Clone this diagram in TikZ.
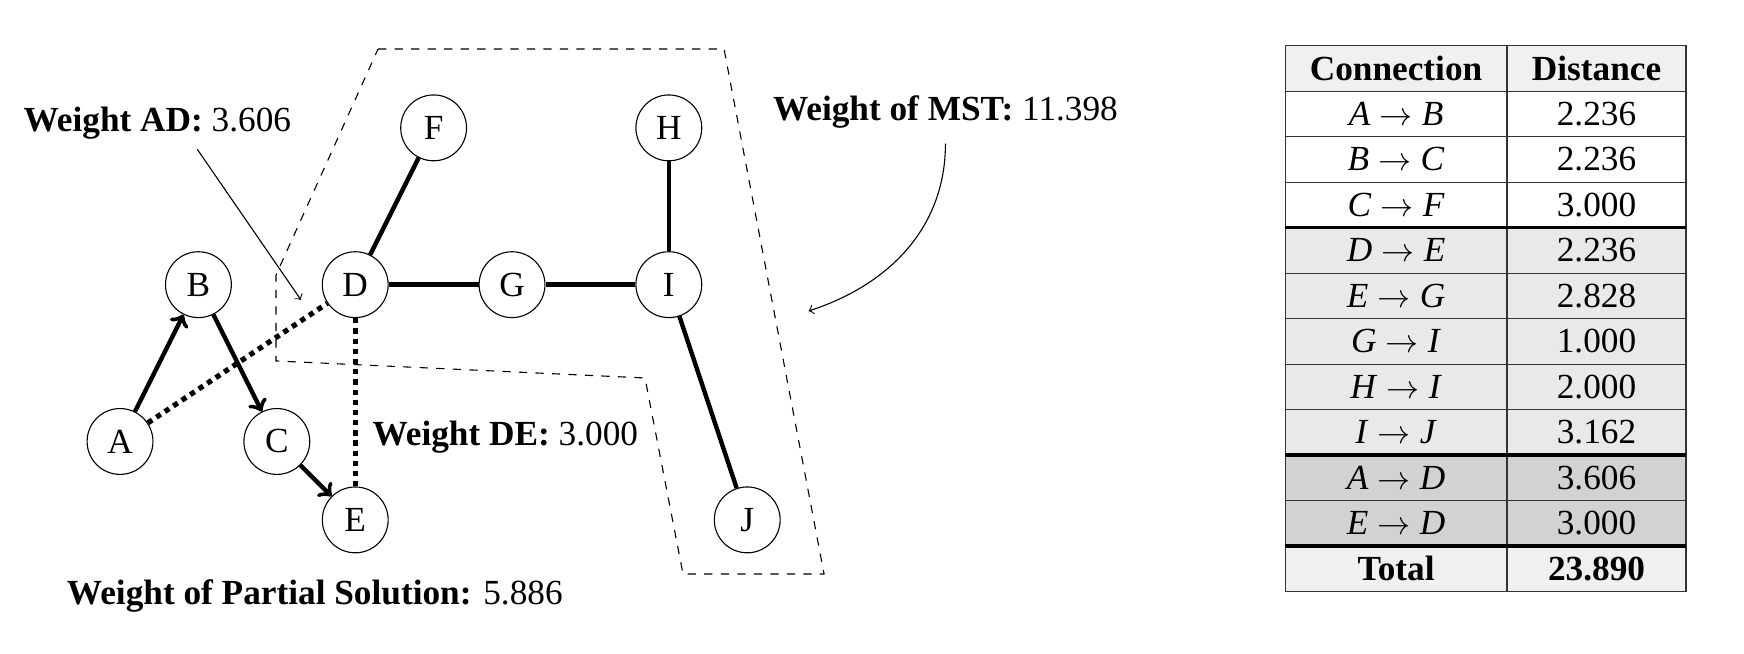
\documentclass[tikz,border=0pt]{standalone}
\usepackage{fontspec}
\setmainfont{Liberation Serif}
\usetikzlibrary{calc}

\colorlet{rowhead}{gray!12}
\colorlet{rowmid}{gray!17}
\colorlet{rowdark}{gray!35}

\tikzset{
  vertex/.style={draw, circle, fill=white, minimum size=0.84cm, inner sep=0pt},
  mstedge/.style={line width=1.6pt},
  pathedge/.style={line width=1.6pt, ->},
  cutedge/.style={line width=1.9pt, dash pattern=on 1.9pt off 1.8pt},
  thickrule/.style={line width=1.3pt},
}

\begin{document}
\begin{tikzpicture}[font=\fontsize{12.8}{15}\selectfont]
    \useasboundingbox (-1.531,-2.710) rectangle (20.714,5.631);

    \draw[dashed] (3.291,5.006) -- (7.704,5.006) -- (8.980,-1.690) -- (7.181,-1.690)
        -- (6.696,0.810) -- (1.990,1.027) -- (1.990,2.124) -- cycle;

    \foreach \n/\x/\y in {A/0/0, B/1/2, C/2/0, D/3/2, E/3/-1, F/4/4, G/5/2, H/7/4, I/7/2, J/8/-1}
    \node (\n) [vertex] at (\x,\y) {\n};

    \draw[pathedge] (A) -- (B);
    \draw[pathedge] (B) -- (C);
    \draw[pathedge] (C) -- (E);
    \draw[cutedge] (A) -- (D);
    \draw[cutedge] (D) -- node (wde) [pos=0.71, right=2pt] {\textbf{Weight DE:} 3.000} (E);
    \foreach \u/\v in {D/F, D/G, G/I, H/I, I/J}
    \draw[mstedge] (\u) -- (\v);

    \node (wad) [anchor=west] at (-1.354,4.056) {\textbf{Weight AD:} 3.606};
    \coordinate (adtip) at (2.309,1.804);
    \draw[->] ([xshift=0.51cm]wad.south) -- (adtip);

    \node (wmst) [anchor=west] at (8.205,4.203) {\textbf{Weight of MST:} 11.398};
    \coordinate (msttip) at (8.783,1.664);
    \draw[->] ([yshift=-2pt]wmst.south) to[out=-90, in=18] (msttip);

    \node (wpart) [anchor=west] at (-0.801,-1.971) {\textbf{Weight of Partial Solution:} 5.886};

    % table of connections
    \def\rh{0.5805}
    \def\ty{5.050}
    \path[fill=rowhead, draw=black!80] (14.860,\ty) rectangle (19.974,{\ty-\rh});
    \node (hc) at (16.276,{\ty-0.5*\rh}) {\textbf{Connection}};
    \node (hd) at (18.833,{\ty-0.5*\rh}) {\textbf{Distance}};
    \foreach \a/\b/\c/\f [count=\r from 1] in {A/B/2.236/white, B/C/2.236/white, C/F/3.000/white,
        D/E/2.236/rowmid, E/G/2.828/rowmid, G/I/1.000/rowmid, H/I/2.000/rowmid, I/J/3.162/rowmid,
        A/D/3.606/rowdark, E/D/3.000/rowdark} {
      \path[fill=\f, draw=black!80] (14.860,{\ty-\r*\rh}) rectangle (19.974,{\ty-(\r+1)*\rh});
      \node (c\r) at (16.276,{\ty-(\r+0.5)*\rh}) {\textit{\a}$\;\rightarrow\;$\textit{\b}};
      \node (d\r) at (18.833,{\ty-(\r+0.5)*\rh}) {\c};
    }
    \path[fill=rowhead, draw=black!80] (14.860,{\ty-11*\rh}) rectangle (19.974,{\ty-12*\rh});
    \node (tc) at (16.276,{\ty-11.5*\rh}) {\textbf{Total}};
    \node (td) at (18.833,{\ty-11.5*\rh}) {\textbf{23.890}};
    \draw[black!80] (17.691,\ty) -- (17.691,{\ty-12*\rh});
    \draw[black!80] (14.860,\ty) rectangle (19.974,{\ty-12*\rh});
    \foreach \k in {4,9,11}
    \draw[thickrule] (14.860,{\ty-\k*\rh}) -- (19.974,{\ty-\k*\rh});

\end{tikzpicture}
\end{document}
